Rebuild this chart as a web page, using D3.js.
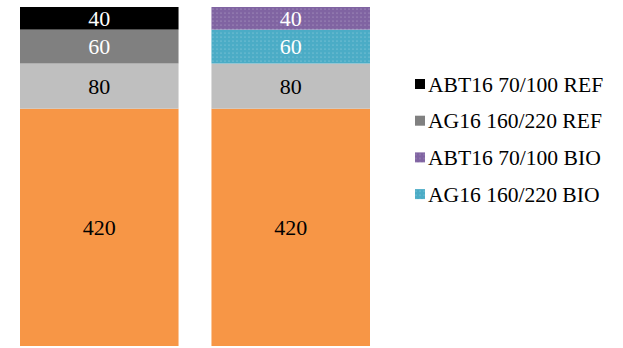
<!DOCTYPE html>
<html>
<head>
<meta charset="utf-8">
<script src="https://cdn.jsdelivr.net/npm/d3@7"></script>
<style>
  body { margin: 0; background: #fff; }
  svg { display: block; font-family: "Liberation Serif", "Times New Roman", serif; }
</style>
</head>
<body>
<div id="chart"></div>
<script>
// data
const bars = ["REF", "BIO"]
const layers = ["base", "mid", "binder70", "binder160"]
const refValues = [420, 80, 60, 40]
const bioValues = [420, 80, 60, 40]
const legendLabels = ["ABT16 70/100 REF", "AG16 160/220 REF", "ABT16 70/100 BIO", "AG16 160/220 BIO"]

let width = 623
let height = 348

let svg = d3.select("#chart").append("svg")
    .attr("width", width)
    .attr("height", height)

// dotted fills for the BIO binders
let defs = svg.append("defs")
function dots(id, color) {
  let p = defs.append("pattern")
      .attr("id", id)
      .attr("width", 4).attr("height", 4)
      .attr("patternUnits", "userSpaceOnUse")
  p.append("rect").attr("width", 4).attr("height", 4).attr("fill", color)
  p.append("circle").attr("cx", 1).attr("cy", 1).attr("r", 0.6)
      .attr("fill", "#fff").attr("opacity", 0.45)
}
dots("dotPurple", "#8064a2")
dots("dotTeal", "#4bacc6")

// colours per layer, per bar (bottom -> top)
const fills = {
  REF: ["#f79646", "#bfbfbf", "#808080", "#000000"],
  BIO: ["#f79646", "#bfbfbf", "url(#dotTeal)", "url(#dotPurple)"]
}
const textColors = ["#000", "#000", "#fff", "#fff"]

let rows = bars.map((b, i) => {
  let vals = i == 0 ? refValues : bioValues
  let row = { bar: b }
  layers.forEach((l, j) => row[l] = vals[j])
  return row
})

let stacked = d3.stack().keys(layers)(rows)

let xScale = d3.scaleBand().domain(bars).range([20, 370]).paddingInner(0.172)
let yScale = d3.scaleLinear().domain([0, 600]).range([346, 7])

let groups = svg.selectAll("g.layer")
    .data(stacked)
    .enter()
    .append("g")
    .attr("class", "layer")

groups.selectAll("rect")
    .data((d, i) => d.map(s => ({ s: s, layer: i })))
    .enter()
    .append("rect")
    .attr("x", d => xScale(d.s.data.bar))
    .attr("y", d => yScale(d.s[1]))
    .attr("width", xScale.bandwidth())
    .attr("height", d => yScale(d.s[0]) - yScale(d.s[1]))
    .attr("fill", d => fills[d.s.data.bar][d.layer])

groups.selectAll("text")
    .data((d, i) => d.map(s => ({ s: s, layer: i })))
    .enter()
    .append("text")
    .attr("x", d => xScale(d.s.data.bar) + xScale.bandwidth() / 2)
    .attr("y", d => (yScale(d.s[0]) + yScale(d.s[1])) / 2)
    .attr("dy", "0.35em")
    .attr("text-anchor", "middle")
    .attr("font-size", 22)
    .attr("fill", d => textColors[d.layer])
    .text(d => d.s[1] - d.s[0])

// legend
const legendFills = ["#000000", "#808080", "url(#dotPurple)", "url(#dotTeal)"]
let legend = svg.append("g").attr("transform", "translate(415, 84)")
let items = legend.selectAll("g")
    .data(legendLabels)
    .enter()
    .append("g")
    .attr("transform", (d, i) => "translate(0," + i * 36.7 + ")")
items.append("rect")
    .attr("x", 0).attr("y", -5)
    .attr("width", 10).attr("height", 10)
    .attr("fill", (d, i) => legendFills[i])
items.append("text")
    .attr("x", 13)
    .attr("dy", "0.35em")
    .attr("font-size", 21.6)
    .attr("fill", "#000")
    .text(d => d)
</script>
</body>
</html>
